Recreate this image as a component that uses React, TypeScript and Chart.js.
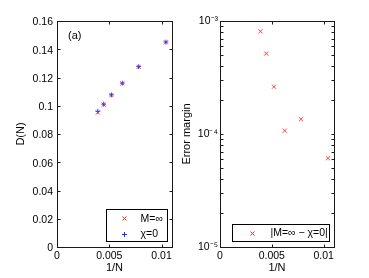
import React, { useEffect, useRef } from "react";
import { Chart, registerables } from "chart.js";

Chart.register(...registerables);

// ---- data ----
const invN = [1 / 256, 1 / 224, 1 / 192, 1 / 160, 1 / 128, 1 / 96];
const dMinf = [0.0952, 0.1008, 0.1075, 0.1158, 0.1275, 0.1449];
const dChi0 = [0.0961, 0.1011, 0.1077, 0.116, 0.1277, 0.1451];
const errMargin = [8.1e-4, 5.15e-4, 2.62e-4, 1.07e-4, 1.35e-4, 6.1e-5];

const xTicks = [0, 0.005, 0.01];
const xTickLabels = ["0", "0.005", "0.01"];
const yTicksLeft = [0, 0.02, 0.04, 0.06, 0.08, 0.1, 0.12, 0.14, 0.16];
const yTickLabelsLeft = ["0", "0.02", "0.04", "0.06", "0.08", "0.1", "0.12", "0.14", "0.16"];
const yTicksRight = [1e-5, 1e-4, 1e-3];
const yTickLabelsRight = ["10⁻⁵", "10⁻⁴", "10⁻³"];
const legendLeft = ["M=∞", "χ=0"];
const legendRight = ["|M=∞ − χ=0|"];
const panelLabel = "(a)";

const FONT = "'Liberation Sans', Arial, Helvetica, sans-serif";
const W = 369;
const H = 278;
const RED = "rgb(255,40,40)";
const BLUE = "rgb(40,40,255)";

function drawX(ctx: CanvasRenderingContext2D, x: number, y: number, r: number, c: string) {
  ctx.strokeStyle = c;
  ctx.lineWidth = 1;
  ctx.beginPath();
  ctx.moveTo(x - r, y - r);
  ctx.lineTo(x + r, y + r);
  ctx.moveTo(x - r, y + r);
  ctx.lineTo(x + r, y - r);
  ctx.stroke();
}
function drawPlus(ctx: CanvasRenderingContext2D, x: number, y: number, r: number, c: string) {
  ctx.strokeStyle = c;
  ctx.lineWidth = 1;
  ctx.beginPath();
  ctx.moveTo(x - r, y);
  ctx.lineTo(x + r, y);
  ctx.moveTo(x, y - r);
  ctx.lineTo(x, y + r);
  ctx.stroke();
}

function framePlugin(kind: "left" | "right") {
  return {
    id: "frame" + kind,
    afterDraw(chart: any) {
      const { ctx, chartArea: a, scales } = chart;
      const L = Math.floor(a.left) + 0.5;
      const R = Math.floor(a.right) + 0.5;
      const T = Math.floor(a.top) + 0.5;
      const B = Math.floor(a.bottom) + 0.5;
      const tl = 3;
      ctx.save();
      ctx.strokeStyle = "#1a1a1a";
      ctx.lineWidth = 1;
      ctx.strokeRect(L, T, R - L, B - T);
      ctx.beginPath();
      for (const v of xTicks) {
        const px = Math.round(scales.x.getPixelForValue(v)) + 0.5;
        ctx.moveTo(px, B);
        ctx.lineTo(px, B - tl);
        ctx.moveTo(px, T);
        ctx.lineTo(px, T + tl);
      }
      const yt: number[] = [];
      if (kind === "left") {
        yt.push(...yTicksLeft);
      } else {
        for (let e = -5; e < -2; e++) {
          for (let m = 1; m < 10; m++) yt.push(m * Math.pow(10, e));
        }
        yt.push(1e-3);
      }
      for (const v of yt) {
        const py = Math.round(scales.y.getPixelForValue(v)) + 0.5;
        ctx.moveTo(L, py);
        ctx.lineTo(L + tl, py);
        ctx.moveTo(R, py);
        ctx.lineTo(R - tl, py);
      }
      ctx.stroke();

      // legend
      ctx.font = `10.5px ${FONT}`;
      ctx.textBaseline = "middle";
      ctx.textAlign = "left";
      if (kind === "left") {
        ctx.fillStyle = "#fff";
        ctx.fillRect(106.5, 209.5, 61, 32);
        ctx.strokeStyle = "#000";
        ctx.strokeRect(106.5, 209.5, 61, 32);
        drawX(ctx, 124.5, 218.5, 2, RED);
        drawPlus(ctx, 124.5, 234.5, 2.5, BLUE);
        ctx.fillStyle = "#000";
        ctx.fillText(legendLeft[0], 140.5, 219);
        ctx.fillText(legendLeft[1], 140.5, 234.5);
        ctx.font = `11px ${FONT}`;
        ctx.fillText(panelLabel, 68, 36);
      } else {
        ctx.fillStyle = "#fff";
        ctx.fillRect(232.5, 224.5, 97, 17);
        ctx.strokeStyle = "#000";
        ctx.strokeRect(232.5, 224.5, 97, 17);
        drawX(ctx, 252.5, 233.5, 2, RED);
        ctx.fillStyle = "#000";
        ctx.fillText(legendRight[0], 270.5, 233.5);
      }
      ctx.restore();
    },
  };
}

function makeConfig(kind: "left" | "right"): any {
  const isLeft = kind === "left";
  const datasets = isLeft
    ? [
        {
          label: legendLeft[1],
          data: invN.map((x, i) => ({ x, y: dChi0[i] })),
          pointStyle: "cross",
          pointRadius: 2.4,
          borderColor: BLUE,
          backgroundColor: BLUE,
          pointBorderWidth: 0.9,
          showLine: false,
          order: 0,
        },
        {
          label: legendLeft[0],
          data: invN.map((x, i) => ({ x, y: dMinf[i] })),
          pointStyle: "crossRot",
          pointRadius: 2.9,
          borderColor: RED,
          backgroundColor: RED,
          pointBorderWidth: 0.9,
          showLine: false,
          order: 1,
        },
      ]
    : [
        {
          label: legendRight[0],
          data: invN.map((x, i) => ({ x, y: errMargin[i] })),
          pointStyle: "crossRot",
          pointRadius: 2.9,
          borderColor: RED,
          backgroundColor: RED,
          pointBorderWidth: 0.9,
          showLine: false,
        },
      ];
  const tickFont = { family: FONT, size: 10.5 };
  const titleFont = { family: FONT, size: 11 };
  return {
    type: "scatter",
    data: { datasets },
    options: {
      animation: false,
      responsive: false,
      devicePixelRatio: 1,
      events: [],
      layout: {
        padding: isLeft
          ? { left: 0, top: 21, right: W - 172, bottom: 0 }
          : { left: 180, top: 21, right: W - 334, bottom: 0 },
      },
      plugins: { legend: { display: false }, tooltip: { enabled: false }, title: { display: false } },
      scales: {
        x: {
          type: "linear",
          min: 0,
          max: 0.011,
          grid: { display: false, drawTicks: false },
          border: { display: false },
          afterBuildTicks: (s: any) => {
            s.ticks = xTicks.map((v) => ({ value: v }));
          },
          afterFit: (s: any) => {
            s.height = 31;
          },
          ticks: {
            font: tickFont,
            color: "#000",
            padding: 3,
            maxRotation: 0,
            autoSkip: false,
            callback: (v: number) => {
              const i = xTicks.findIndex((t) => Math.abs(t - v) < 1e-9);
              return i >= 0 ? xTickLabels[i] : "";
            },
          },
          title: { display: true, text: "1/N", font: titleFont, color: "#000", padding: { top: 0, bottom: 3 } },
        },
        y: isLeft
          ? {
              type: "linear",
              min: 0,
              max: 0.16,
              grid: { display: false, drawTicks: false },
              border: { display: false },
              afterBuildTicks: (s: any) => {
                s.ticks = yTicksLeft.map((v) => ({ value: v }));
              },
              afterFit: (s: any) => {
                s.width = 57;
              },
              ticks: {
                font: tickFont,
                color: "#000",
                padding: 4,
                labelOffset: 1.5,
                autoSkip: false,
                callback: (v: number) => {
                  const i = yTicksLeft.findIndex((t) => Math.abs(t - v) < 1e-9);
                  return i >= 0 ? yTickLabelsLeft[i] : "";
                },
              },
              title: { display: true, text: "D(N)", font: titleFont, color: "#000", padding: { top: 14, bottom: 0 } },
            }
          : {
              type: "logarithmic",
              min: 1e-5,
              max: 1e-3,
              grid: { display: false, drawTicks: false },
              border: { display: false },
              afterBuildTicks: (s: any) => {
                s.ticks = yTicksRight.map((v) => ({ value: v }));
              },
              afterFit: (s: any) => {
                s.width = 40;
              },
              ticks: {
                font: tickFont,
                color: "#000",
                padding: 2,
                autoSkip: false,
                callback: (v: number) => {
                  const i = yTicksRight.findIndex((t) => Math.abs(Math.log10(t) - Math.log10(v)) < 1e-6);
                  return i >= 0 ? yTickLabelsRight[i] : "";
                },
              },
              title: { display: true, text: "Error margin", font: titleFont, color: "#000", padding: { top: 0, bottom: 0 } },
            },
      },
    },
    plugins: [framePlugin(kind)],
  };
}

function Panel({ kind }: { kind: "left" | "right" }) {
  const ref = useRef<HTMLCanvasElement | null>(null);
  useEffect(() => {
    if (!ref.current) return;
    const chart = new Chart(ref.current, makeConfig(kind));
    return () => chart.destroy();
  }, [kind]);
  return (
    <canvas
      ref={ref}
      width={W}
      height={H}
      style={{ position: "fixed", left: 0, top: 0, width: W, height: H, pointerEvents: "none" }}
    />
  );
}

export default function App() {
  return (
    <div style={{ position: "fixed", left: 0, top: 0, width: W, height: H, background: "#fff" }}>
      <Panel kind="left" />
      <Panel kind="right" />
    </div>
  );
}
